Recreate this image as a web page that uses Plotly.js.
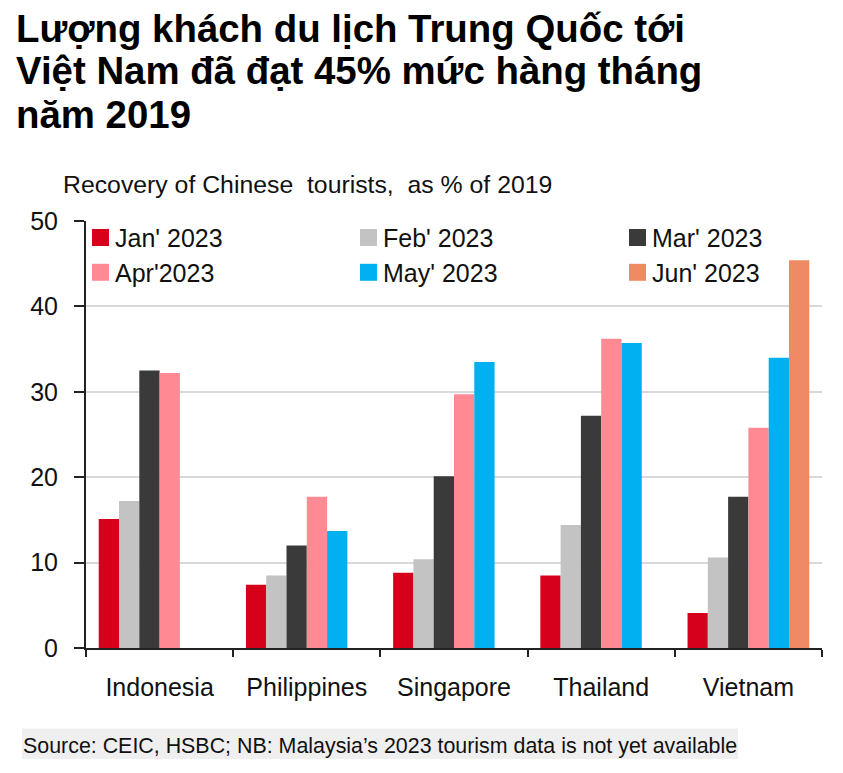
<!DOCTYPE html>
<html>
<head>
<meta charset="utf-8">
<script src="https://cdn.plot.ly/plotly-3.0.1.min.js"></script>
<style>
html,body{margin:0;padding:0;background:#fff;}
#chart{width:843px;height:773px;}
</style>
</head>
<body>
<div id="chart"></div>
<script>
// ---- data ----
const countries = ["Indonesia", "Philippines", "Singapore", "Thailand", "Vietnam"];
const seriesNames = ["Jan' 2023", "Feb' 2023", "Mar' 2023", "Apr'2023", "May' 2023", "Jun' 2023"];
const jan2023 = [15.1, 7.4, 8.8, 8.5, 4.1];
const feb2023 = [17.2, 8.5, 10.4, 14.4, 10.6];
const mar2023 = [32.5, 12.0, 20.1, 27.2, 17.7];
const apr2023 = [32.2, 17.7, 29.7, 36.2, 25.8];
const may2023 = [null, 13.7, 33.5, 35.7, 34.0];
const jun2023 = [null, null, null, null, 45.4];
const yTicks = [0, 10, 20, 30, 40, 50];
const titleLines = ["Lượng khách du lịch Trung Quốc tới", "Việt Nam đã đạt 45% mức hàng tháng", "năm 2019"];
const subtitle = "Recovery of Chinese\u00a0 tourists,\u00a0 as % of 2019";
const sourceText = "Source: CEIC, HSBC; NB: Malaysia\u2019s 2023 tourism data is not yet available";

// ---- styles ----
const colors = ["#d7001a", "#c3c3c3", "#3a3a3a", "#ff8a93", "#00b0f0", "#f08a64"];
const W = 843, H = 773;
const L = 86, R = 21, T = 221, B = 125;
const pw = W - L - R, ph = H - T - B;
const px = x => (x - L) / pw;
const py = y => (H - B - y) / ph;
const FONT = "Liberation Sans, Arial, sans-serif";

const allSeries = [jan2023, feb2023, mar2023, apr2023, may2023, jun2023];
const traces = allSeries.map((vals, i) => ({
  type: "bar",
  name: seriesNames[i],
  x: countries,
  y: vals,
  marker: {color: colors[i], line: {width: 0}},
  showlegend: false
}));

const annotations = titleLines.map((t, i) => ({
  text: "<b>" + t + "</b>",
  xref: "paper", yref: "paper",
  x: px(14), y: py([28.2, 70.5, 114.8][i]),
  xanchor: "left", yanchor: "middle",
  showarrow: false,
  font: {family: FONT, size: 38.4, color: "#000"}
}));
annotations.push({
  text: subtitle, xref: "paper", yref: "paper",
  x: px(61), y: py(184.5), xanchor: "left", yanchor: "middle",
  showarrow: false, font: {family: FONT, size: 24.8, color: "#111"}
});
annotations.push({
  text: sourceText, xref: "paper", yref: "paper",
  x: px(21), y: py(745.8), xanchor: "left", yanchor: "middle",
  showarrow: false, font: {family: FONT, size: 21.4, color: "#111"}
});

// custom legend (3 columns x 2 rows), built from seriesNames / colors
const legColX = [92, 360, 629];
const legRowY = [237.5, 272.3];
const shapes = [];
seriesNames.forEach((name, i) => {
  const col = i % 3, row = Math.floor(i / 3);
  const x0 = legColX[col], yc = legRowY[row];
  shapes.push({
    type: "rect", xref: "paper", yref: "paper",
    x0: px(x0), x1: px(x0 + 17), y0: py(yc + 8.5), y1: py(yc - 8.5),
    fillcolor: colors[i], line: {width: 0}
  });
  annotations.push({
    text: name, xref: "paper", yref: "paper",
    x: px(x0 + 21), y: py(yc + 0.8), xanchor: "left", yanchor: "middle",
    showarrow: false, font: {family: FONT, size: 25, color: "#111"}
  });
});
shapes.push({
  type: "rect", xref: "paper", yref: "paper", layer: "below",
  x0: px(22), x1: px(738), y0: py(759), y1: py(728.5),
  fillcolor: "#efefef", line: {width: 0}
});

const layout = {
  width: W, height: H,
  margin: {l: L, r: R, t: T, b: B, pad: 0},
  paper_bgcolor: "#fff", plot_bgcolor: "#fff",
  barmode: "group", bargap: 0.173, bargroupgap: 0,
  font: {family: FONT, size: 25, color: "#111"},
  showlegend: false,
  xaxis: {
    type: "category", tickson: "boundaries", ticks: "outside", ticklen: 7, tickwidth: 2, tickcolor: "#222",
    showline: true, linecolor: "#222", linewidth: 2, showgrid: false,
    tickfont: {family: FONT, size: 25, color: "#111"}, ticklabelstandoff: 16,
    fixedrange: true
  },
  yaxis: {
    range: [0, 50], tickvals: yTicks, ticktext: yTicks.map(String),
    ticks: "outside", ticklen: 10, tickwidth: 2, tickcolor: "#222",
    showline: true, linecolor: "#222", linewidth: 2,
    showgrid: true, gridcolor: "#d9d9d9", gridwidth: 2, zeroline: false,
    tickfont: {family: FONT, size: 25, color: "#111"}, ticklabelstandoff: 11,
    fixedrange: true
  },
  shapes: shapes,
  annotations: annotations
};

Plotly.newPlot("chart", traces, layout, {displayModeBar: false, staticPlot: true});
</script>
</body>
</html>
